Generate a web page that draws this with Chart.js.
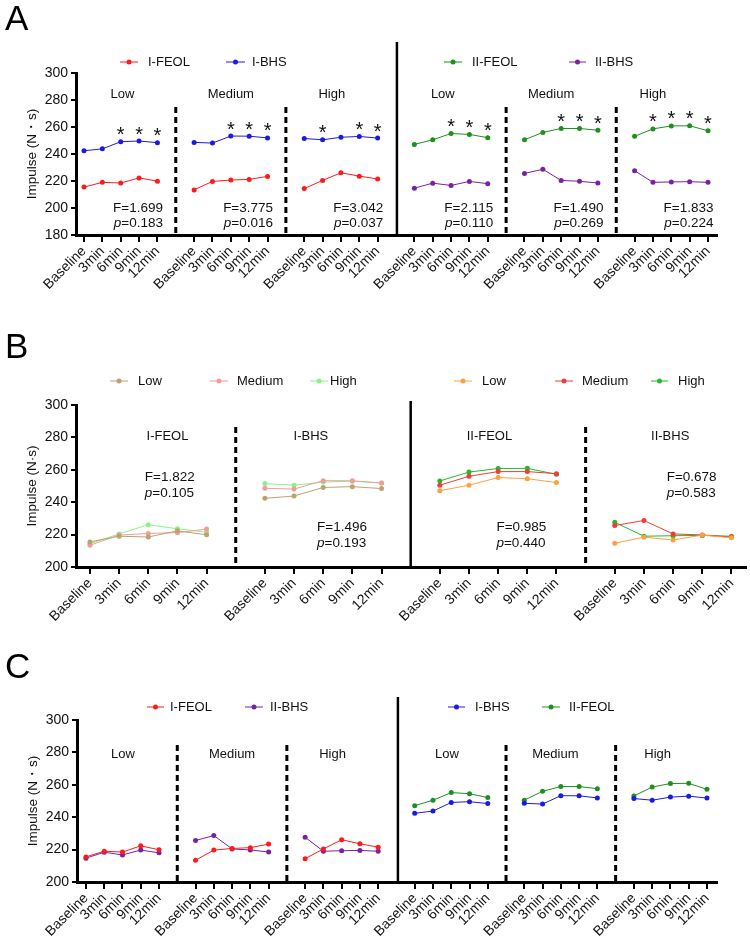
<!DOCTYPE html>
<html>
<head>
<meta charset="utf-8">
<script src="https://cdn.jsdelivr.net/npm/chart.js@4.4.0/dist/chart.umd.min.js"></script>
<style>
  body { margin: 0; background: #fff; width: 750px; height: 941px; position: relative; overflow: hidden; }
  canvas { position: absolute; left: 0; }
</style>
</head>
<body>
<canvas id="panelA" width="750" height="320" style="top:0px"></canvas>
<canvas id="panelB" width="750" height="310" style="top:320px"></canvas>
<canvas id="panelC" width="750" height="311" style="top:630px"></canvas>
<script>
const FONT = '"Liberation Sans", Arial, sans-serif';

const timePoints = ['Baseline', '3min', '6min', '9min', '12min'];
const intensities = ['Low', 'Medium', 'High'];

// impulse (N·s) per time point
const iFeolLow = [215.5, 219.0, 218.5, 222.3, 219.9];
const iFeolMedium = [213.4, 219.7, 220.7, 221.2, 223.4];
const iFeolHigh = [214.4, 220.4, 226.1, 223.6, 221.5];
const iBhsLow = [242.4, 243.8, 249.1, 249.6, 248.4];
const iBhsMedium = [248.6, 248.1, 253.3, 253.2, 251.9];
const iBhsHigh = [251.5, 250.5, 252.4, 253.0, 251.8];
const iiFeolLow = [247.1, 250.5, 255.2, 254.5, 252.1];
const iiFeolMedium = [250.5, 256.0, 258.9, 258.9, 257.6];
const iiFeolHigh = [253.1, 258.6, 260.8, 260.9, 257.2];
const iiBhsLow = [214.7, 218.4, 216.7, 219.7, 218.0];
const iiBhsMedium = [225.6, 228.7, 220.4, 219.8, 218.5];
const iiBhsHigh = [227.6, 219.0, 219.3, 219.5, 219.0];

const fValuesA = ['1.699', '3.775', '3.042', '2.115', '1.490', '1.833'];
const pValuesA = ['0.183', '0.016', '0.037', '0.110', '0.269', '0.224'];
const fValuesB = ['1.822', '1.496', '0.985', '0.678'];
const pValuesB = ['0.105', '0.193', '0.440', '0.583'];
// time point indices marked with * in panel A (one list per block)
const starsA = [[2, 3, 4], [2, 3, 4], [1, 3, 4], [2, 3, 4], [2, 3, 4], [1, 2, 3, 4]];

const colors = { iFeol: '#ff1a1a', iBhs: '#1a1ae6', iiFeol: '#1f8f1f', iiBhs: '#7b20a3' };
const levelColorsI = ['#b8a46c', '#f59a9a', '#8cf08c'];
const levelColorsII = ['#ffa040', '#f03c3c', '#26b826'];

// each block is 5 time points followed by one empty slot
const blockStart = b => b * 6;

function segment(values, block, color) {
  return {
    data: values.map((v, i) => ({ x: blockStart(block) + i, y: v })),
    borderColor: color,
    backgroundColor: color,
    pointBackgroundColor: color,
    pointBorderWidth: 0,
    pointRadius: 2.5,
    borderWidth: 1,
    tension: 0
  };
}

function drawStat(ctx, px, py1, py2, f, p, align) {
  ctx.textBaseline = 'middle';
  ctx.textAlign = 'left';
  ctx.fillStyle = '#111';
  const fText = 'F=' + f;
  const rest = '=' + p;
  ctx.font = `13.5px ${FONT}`;
  const wF = ctx.measureText(fText).width;
  const wRest = ctx.measureText(rest).width;
  ctx.font = `italic 13.5px ${FONT}`;
  const wP = ctx.measureText('p').width;
  const x1 = align === 'right' ? px - wF : px;
  const x2 = align === 'right' ? px - wP - wRest : px;
  ctx.font = `13.5px ${FONT}`;
  ctx.fillText(fText, x1, py1);
  ctx.font = `italic 13.5px ${FONT}`;
  ctx.fillText('p', x2, py2);
  ctx.font = `13.5px ${FONT}`;
  ctx.fillText(rest, x2 + wP, py2);
}

const decor = {
  id: 'decor',
  afterDraw(chart, args, o) {
    const { ctx } = chart;
    const x = chart.scales.x, y = chart.scales.y;
    ctx.save();
    ctx.fillStyle = '#000';
    ctx.font = `35px ${FONT}`;
    ctx.textAlign = 'left';
    ctx.textBaseline = 'alphabetic';
    ctx.fillText(o.letter, 5, o.letterY);

    ctx.strokeStyle = '#000';
    o.separators.forEach(s => {
      const px = x.getPixelForValue(s.x);
      ctx.beginPath();
      ctx.lineWidth = s.solid ? 2.5 : 3;
      ctx.setLineDash(s.solid ? [] : [6, 4]);
      ctx.moveTo(px, y.getPixelForValue(s.top));
      ctx.lineTo(px, y.bottom);
      ctx.stroke();
    });
    ctx.setLineDash([]);

    ctx.fillStyle = '#111';
    ctx.font = `13px ${FONT}`;
    ctx.textAlign = 'center';
    ctx.textBaseline = 'middle';
    o.groupLabels.forEach(g => ctx.fillText(g.text, x.getPixelForValue(g.x), y.getPixelForValue(g.y)));

    o.stats.forEach(s => drawStat(ctx, x.getPixelForValue(s.x), y.getPixelForValue(s.y1),
      y.getPixelForValue(s.y2), s.f, s.p, s.align));

    if (o.stars) {
      ctx.font = `20px ${FONT}`;
      ctx.textAlign = 'center';
      ctx.textBaseline = 'alphabetic';
      ctx.fillStyle = '#111';
      o.stars.marks.forEach((idx, b) => {
        idx.forEach(i => {
          const px = x.getPixelForValue(blockStart(b) + i);
          const cy = y.getPixelForValue(o.stars.series[b][i]) - 12;
          ctx.fillText('*', px, cy + 11.5);
        });
      });
    }

    ctx.font = `13px ${FONT}`;
    ctx.textAlign = 'left';
    ctx.textBaseline = 'middle';
    o.legend.forEach(l => {
      ctx.strokeStyle = l.color;
      ctx.fillStyle = l.color;
      ctx.lineWidth = 1;
      ctx.beginPath();
      ctx.moveTo(l.x1, l.y);
      ctx.lineTo(l.x2, l.y);
      ctx.stroke();
      ctx.beginPath();
      ctx.arc((l.x1 + l.x2) / 2, l.y, 2.5, 0, Math.PI * 2);
      ctx.fill();
      ctx.fillStyle = '#111';
      ctx.fillText(l.label, l.tx, l.y);
    });
    ctx.restore();
  }
};

function makeChart(id, cfg) {
  const canvas = document.getElementById(id);
  const tickValues = [];
  for (let b = 0; b < cfg.blocks; b++) {
    timePoints.forEach((t, i) => tickValues.push(blockStart(b) + i));
  }
  return new Chart(canvas, {
    type: 'line',
    data: { datasets: cfg.datasets },
    plugins: [decor],
    options: {
      responsive: false,
      animation: false,
      devicePixelRatio: 1,
      layout: { padding: cfg.padding },
      plugins: {
        legend: { display: false },
        tooltip: { enabled: false },
        decor: cfg.decor
      },
      scales: {
        x: {
          type: 'linear',
          min: cfg.xMin,
          max: cfg.xMax,
          afterBuildTicks: s => { s.ticks = tickValues.map(v => ({ value: v })); },
          afterFit: s => { s.height = cfg.xHeight; },
          grid: { drawOnChartArea: false, drawTicks: true, tickLength: 7, color: '#000', lineWidth: 2 },
          border: { display: true, color: '#000', width: 3 },
          ticks: {
            autoSkip: false,
            minRotation: 45,
            maxRotation: 45,
            padding: 1,
            color: '#111',
            font: { family: FONT, size: 14 },
            callback: v => timePoints[v % 6]
          }
        },
        y: {
          min: cfg.yMin,
          max: 300,
          afterFit: s => { s.width = 56; },
          grid: { drawOnChartArea: false, drawTicks: true, tickLength: 5, color: '#000', lineWidth: 2 },
          border: { display: true, color: '#000', width: 3 },
          ticks: { stepSize: 20, padding: 3, color: '#111', font: { family: FONT, size: 14 } },
          title: { display: true, text: cfg.yTitle, color: '#111', padding: 4, font: { family: FONT, size: 13.5 } }
        }
      }
    }
  });
}

// Panel A
makeChart('panelA', {
  blocks: 6, xMin: -0.436, xMax: 34.49, yMin: 180, xHeight: 85,
  padding: { left: 20, right: 33, top: 73, bottom: 0 },
  yTitle: 'Impulse (N・s)',
  datasets: [
    segment(iFeolLow, 0, colors.iFeol), segment(iFeolMedium, 1, colors.iFeol), segment(iFeolHigh, 2, colors.iFeol),
    segment(iBhsLow, 0, colors.iBhs), segment(iBhsMedium, 1, colors.iBhs), segment(iBhsHigh, 2, colors.iBhs),
    segment(iiFeolLow, 3, colors.iiFeol), segment(iiFeolMedium, 4, colors.iiFeol), segment(iiFeolHigh, 5, colors.iiFeol),
    segment(iiBhsLow, 3, colors.iiBhs), segment(iiBhsMedium, 4, colors.iiBhs), segment(iiBhsHigh, 5, colors.iiBhs)
  ],
  decor: {
    letter: 'A', letterY: 30,
    separators: [
      { x: 5, top: 274.8 }, { x: 11, top: 274.8 }, { x: 17.05, top: 323, solid: true },
      { x: 23, top: 274.8 }, { x: 29, top: 274.8 }
    ],
    groupLabels: [2.1, 8.0, 13.5, 19.55, 25.45, 31.0].map((gx, b) => ({ x: gx, y: 284.4, text: intensities[b % 3] })),
    stats: fValuesA.map((f, b) => ({ x: blockStart(b) + 4.3, y1: 200, y2: 188.9, f, p: pValuesA[b], align: 'right' })),
    stars: { marks: starsA, series: [iBhsLow, iBhsMedium, iBhsHigh, iiFeolLow, iiFeolMedium, iiFeolHigh] },
    legend: [
      { label: 'I-FEOL', color: colors.iFeol, x1: 120, x2: 138, tx: 148, y: 62 },
      { label: 'I-BHS', color: colors.iBhs, x1: 226, x2: 245, tx: 252, y: 62 },
      { label: 'II-FEOL', color: colors.iiFeol, x1: 444, x2: 462, tx: 472, y: 62 },
      { label: 'II-BHS', color: colors.iiBhs, x1: 569, x2: 586, tx: 595, y: 62 }
    ]
  }
});

// Panel B
const bSeries = [
  [iFeolLow, iFeolMedium, iFeolHigh],
  [iBhsLow, iBhsMedium, iBhsHigh],
  [iiFeolLow, iiFeolMedium, iiFeolHigh],
  [iiBhsLow, iiBhsMedium, iiBhsHigh]
];
const bDatasets = [];
bSeries.forEach((levels, b) => {
  const pal = b < 2 ? levelColorsI : levelColorsII;
  levels.forEach((vals, k) => bDatasets.push(segment(vals, b, pal[k])));
});
const bGroupNames = ['I-FEOL', 'I-BHS', 'II-FEOL', 'II-BHS'];
const bStatPos = [{ x: 1.88, y1: 255.6, y2: 245.7 }, { x: 7.79, y1: 224.7, y2: 214.8 },
  { x: 13.94, y1: 224.7, y2: 214.8 }, { x: 19.78, y1: 255.6, y2: 245.7 }];

makeChart('panelB', {
  blocks: 4, xMin: -0.478, xMax: 22.5, yMin: 200, xHeight: 63,
  padding: { left: 20, right: 1, top: 85, bottom: 0 },
  yTitle: 'Impulse (N·s)',
  datasets: bDatasets,
  decor: {
    letter: 'B', letterY: 38,
    separators: [{ x: 5, top: 286.4 }, { x: 11, top: 302.5, solid: true }, { x: 17, top: 286.4 }],
    groupLabels: [2.66, 7.58, 13.7, 19.9].map((gx, b) => ({ x: gx, y: 280.9, text: bGroupNames[b] })),
    stats: bStatPos.map((s, b) => ({ ...s, f: fValuesB[b], p: pValuesB[b], align: 'left' })),
    legend: [
      { label: 'Low', color: levelColorsI[0], x1: 110, x2: 128, tx: 138, y: 61 },
      { label: 'Medium', color: levelColorsI[1], x1: 210, x2: 228, tx: 237, y: 61 },
      { label: 'High', color: levelColorsI[2], x1: 310, x2: 328, tx: 330, y: 61 },
      { label: 'Low', color: levelColorsII[0], x1: 454, x2: 472, tx: 482, y: 61 },
      { label: 'Medium', color: levelColorsII[1], x1: 555, x2: 573, tx: 582, y: 61 },
      { label: 'High', color: levelColorsII[2], x1: 651, x2: 668, tx: 678, y: 61 }
    ]
  }
});

// Panel C
makeChart('panelC', {
  blocks: 6, xMin: -0.49, xMax: 34.55, yMin: 200, xHeight: 59,
  padding: { left: 21, right: 33, top: 90, bottom: 0 },
  yTitle: 'Impulse (N・s)',
  datasets: [
    segment(iFeolLow, 0, colors.iFeol), segment(iFeolMedium, 1, colors.iFeol), segment(iFeolHigh, 2, colors.iFeol),
    segment(iiBhsLow, 0, colors.iiBhs), segment(iiBhsMedium, 1, colors.iiBhs), segment(iiBhsHigh, 2, colors.iiBhs),
    segment(iBhsLow, 3, colors.iBhs), segment(iBhsMedium, 4, colors.iBhs), segment(iBhsHigh, 5, colors.iBhs),
    segment(iiFeolLow, 3, colors.iiFeol), segment(iiFeolMedium, 4, colors.iiFeol), segment(iiFeolHigh, 5, colors.iiFeol)
  ],
  decor: {
    letter: 'C', letterY: 48,
    separators: [
      { x: 5, top: 284.6 }, { x: 11, top: 284.6 }, { x: 17.08, top: 314.2, solid: true },
      { x: 23, top: 284.6 }, { x: 29, top: 284.6 }
    ],
    groupLabels: [2.03, 8.0, 13.5, 19.77, 25.7, 31.3].map((gx, b) => ({ x: gx, y: 279, text: intensities[b % 3] })),
    stats: [],
    legend: [
      { label: 'I-FEOL', color: colors.iFeol, x1: 147, x2: 164, tx: 170, y: 77 },
      { label: 'II-BHS', color: colors.iiBhs, x1: 245, x2: 263, tx: 270, y: 77 },
      { label: 'I-BHS', color: colors.iBhs, x1: 448, x2: 465, tx: 475, y: 77 },
      { label: 'II-FEOL', color: colors.iiFeol, x1: 542, x2: 560, tx: 569, y: 77 }
    ]
  }
});
</script>
</body>
</html>
